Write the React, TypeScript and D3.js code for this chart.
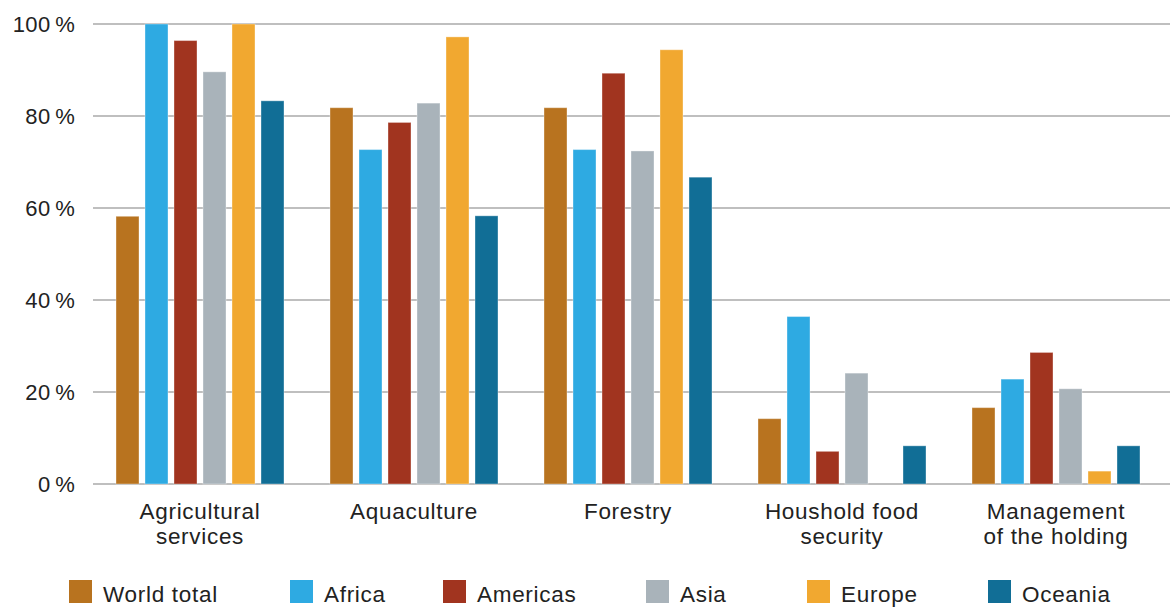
import React from "react";
import * as d3 from "d3";

const categories = [
  ["Agricultural", "services"],
  ["Aquaculture"],
  ["Forestry"],
  ["Houshold food", "security"],
  ["Management", "of the holding"],
];
const seriesNames = ["World total", "Africa", "Americas", "Asia", "Europe", "Oceania"];
const worldTotal = [58.2, 81.8, 81.8, 14.2, 16.6];
const africa = [100, 72.7, 72.7, 36.4, 22.8];
const americas = [96.4, 78.6, 89.3, 7.1, 28.6];
const asia = [89.6, 82.8, 72.4, 24.1, 20.7];
const europe = [100, 97.2, 94.4, 0, 2.8];
const oceania = [83.3, 58.3, 66.7, 8.3, 8.3];
const yTicks = [0, 20, 40, 60, 80, 100];

const seriesValues = [worldTotal, africa, americas, asia, europe, oceania];
const colors = ["#B8731F", "#2EAAE2", "#A1341F", "#A9B3BA", "#F1A830", "#116E96"];
const legendX = [69, 290, 443, 646, 807, 988];

const W = 1172;
const H = 607;
const FONT = "'Liberation Sans', Arial, Helvetica, sans-serif";

export default function App() {
  const x0 = d3
    .scaleBand<number>()
    .domain(categories.map((_, i) => i))
    .range([93, 1163])
    .paddingInner(0.215)
    .paddingOuter(0.1075);
  const x1 = d3
    .scaleBand<number>()
    .domain(seriesNames.map((_, i) => i))
    .range([0, x0.bandwidth()])
    .paddingInner(0.207)
    .paddingOuter(0);
  const y = d3.scaleLinear().domain([0, 100]).range([484, 24]);

  return (
    <svg
      width={W}
      height={H}
      style={{ position: "absolute", left: 0, top: 0, background: "#fff" }}
      fontFamily={FONT}
    >
      {yTicks.map((t) => (
        <g key={t}>
          <line x1={93} x2={1170} y1={y(t)} y2={y(t)} stroke="#aaaaaa" strokeWidth={1.4} />
          <text
            x={75}
            y={y(t) + 7.8}
            textAnchor="end"
            fontSize={22}
            fill="#222"
            letterSpacing={0.3}
          >
            {`${t}\u2009%`}
          </text>
        </g>
      ))}
      {categories.map((cat, ci) => (
        <g key={ci} transform={`translate(${x0(ci)},0)`}>
          {seriesValues.map((vals, si) =>
            vals[ci] > 0 ? (
              <rect
                key={si}
                x={x1(si)}
                y={y(vals[ci])}
                width={x1.bandwidth()}
                height={y(0) - y(vals[ci])}
                fill={colors[si]}
                stroke="rgba(255,255,255,0.35)"
                strokeWidth={1}
              />
            ) : null
          )}
          {cat.map((line, li) => (
            <text
              key={li}
              x={x0.bandwidth() / 2}
              y={519 + li * 24.5}
              textAnchor="middle"
              fontSize={22.5}
              fill="#222"
              letterSpacing={0.7}
            >
              {line}
            </text>
          ))}
        </g>
      ))}
      {seriesNames.map((name, si) => (
        <g key={name}>
          <rect x={legendX[si]} y={580} width={23} height={23} fill={colors[si]} />
          <text
            x={legendX[si] + 34}
            y={602}
            fontSize={22.5}
            fill="#222"
            letterSpacing={0.7}
          >
            {name}
          </text>
        </g>
      ))}
    </svg>
  );
}
